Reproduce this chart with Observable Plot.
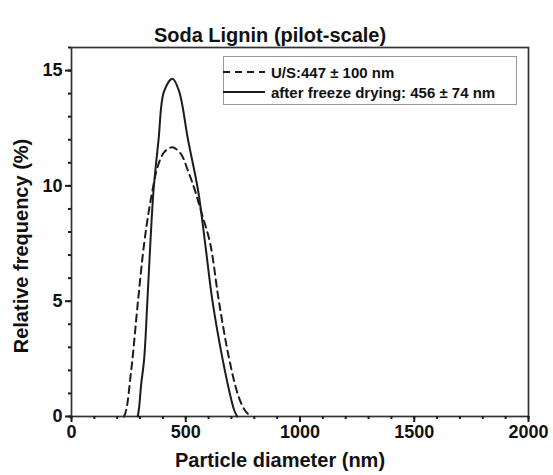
<!DOCTYPE html>
<html>
<head>
<meta charset="utf-8">
<script src="https://cdn.jsdelivr.net/npm/d3@7"></script>
<script src="https://cdn.jsdelivr.net/npm/@observablehq/plot@0.6"></script>
<style>
  html, body { margin: 0; padding: 0; background: #fff; }
  #wrap { position: relative; width: 553px; height: 475px; font-family: "Liberation Sans", Arial, sans-serif; }
  #legend { position: absolute; left: 223px; top: 56px; width: 294px; height: 49px; border: 1px solid #999; box-sizing: border-box; background: #fff; font-weight: bold; font-size: 15px; color: #111; }
  #legend .row { position: absolute; left: -1px; height: 18px; display: flex; align-items: center; }
  #legend svg { display: block; }
  #legend span { margin-left: 6px; white-space: nowrap; }
</style>
</head>
<body>
<div id="wrap"></div>
<script>
// ---- data ----
const titleText = "Soda Lignin (pilot-scale)";
const xLabel = "Particle diameter (nm)";
const yLabel = "Relative frequency (%)";
const seriesNames = ["U/S:447 ± 100 nm", "after freeze drying: 456 ± 74 nm"];

// U/S (dashed)
const usDiameter = [230, 240, 259, 267, 291, 318, 340, 362, 376, 405, 440, 478, 508, 537, 570, 607, 645, 690, 730, 760, 785];
const usFreq     = [0,   0.3, 1.8, 2.5, 5.0, 7.5, 9.0, 10.2, 10.8, 11.45, 11.67, 11.4, 10.7, 9.9, 8.8, 7.5, 5.0, 2.5, 0.9, 0.25, 0];

// after freeze drying (solid)
const fdDiameter = [290, 296, 305, 318, 332, 345, 359, 381, 405, 442, 471, 510, 554, 585, 617, 661, 700, 712, 725];
const fdFreq     = [0,   0.4, 1.4, 2.5, 5.0, 7.5, 9.8, 12.0, 14.1, 14.65, 14.1, 12.0, 9.8, 7.5, 5.0, 2.5, 0.7, 0.27, 0];

const xMajorTicks = [0, 500, 1000, 1500, 2000];
const xMinorTicks = d3.range(0, 2001, 100);
const yMajorTicks = [0, 5, 10, 15];
const yMinorTicks = d3.range(0, 17, 1);

const us = usDiameter.map((d, i) => ({x: d, y: usFreq[i]}));
const fd = fdDiameter.map((d, i) => ({x: d, y: fdFreq[i]}));

const ink = "#1c1c1c";
const font = "'Liberation Sans', Arial, sans-serif";

const plot = Plot.plot({
  width: 553,
  height: 475,
  marginLeft: 71,
  marginRight: 25,
  marginTop: 47,
  marginBottom: 59,
  style: {fontFamily: font, fontWeight: "bold", fontSize: "18px", color: "#111", background: "#fff"},
  x: {domain: [0, 2000]},
  y: {domain: [0, 16]},
  marks: [
    Plot.frame({stroke: "#333", strokeWidth: 1.7}),
    Plot.axisX(xMinorTicks, {tickSize: 3, text: null, stroke: ink, strokeWidth: 2, label: null}),
    Plot.axisX(xMajorTicks, {tickSize: 6, tickPadding: 3, fontSize: 18, stroke: ink, strokeWidth: 2, label: null, tickFormat: "d"}),
    Plot.axisY(yMinorTicks, {tickSize: 3, text: null, stroke: ink, strokeWidth: 2, label: null}),
    Plot.axisY(yMajorTicks, {tickSize: 6, tickPadding: 3, fontSize: 18, stroke: ink, strokeWidth: 2, label: null}),
    Plot.line(us, {x: "x", y: "y", curve: "catmull-rom", stroke: ink, strokeWidth: 2, strokeDasharray: "7,5"}),
    Plot.line(fd, {x: "x", y: "y", curve: "catmull-rom", stroke: ink, strokeWidth: 2}),
    Plot.text([titleText], {frameAnchor: "top", dx: -30, dy: -20, fontSize: 20, fill: "#111"}),
    Plot.text([xLabel], {frameAnchor: "bottom", dx: -20, dy: 50, fontSize: 20, fill: "#111"}),
    Plot.text([yLabel], {frameAnchor: "left", textAnchor: "middle", dx: -50, dy: 14, rotate: -90, fontSize: 20, fill: "#111"})
  ]
});

const wrap = document.getElementById("wrap");
wrap.appendChild(plot);

// legend
const legend = document.createElement("div");
legend.id = "legend";
const dashes = ["7,5", null];
seriesNames.forEach((name, i) => {
  const row = document.createElement("div");
  row.className = "row";
  row.style.top = (6 + i * 20) + "px";
  const sw = d3.create("svg").attr("width", 42).attr("height", 10);
  sw.append("line").attr("x1", 0).attr("x2", 42).attr("y1", 5).attr("y2", 5)
    .attr("stroke", ink).attr("stroke-width", 2).attr("stroke-dasharray", dashes[i]);
  row.appendChild(sw.node());
  const s = document.createElement("span");
  s.textContent = name;
  row.appendChild(s);
  legend.appendChild(row);
});
wrap.appendChild(legend);
</script>
</body>
</html>
